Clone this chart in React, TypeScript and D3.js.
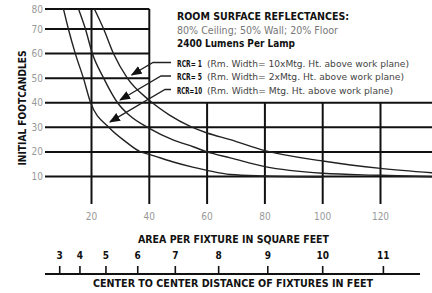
import { useEffect, useRef } from 'react';
import * as d3 from 'd3';

// area per fixture (sq ft) vs initial footcandles
const RCR1: [number, number][] = [
  [21, 80], [24.2, 70], [27.6, 60], [32.4, 50], [40, 41], [47, 35], [54, 30.5],
  [60, 27.7], [68, 25], [80, 20.5], [100, 16.3], [120, 13.3], [138, 11.5],
];
const RCR5: [number, number][] = [
  [15.5, 80], [17.9, 70], [20.3, 60], [24.2, 50], [29, 40], [33, 35], [40, 29.6],
  [48, 25], [55.4, 22], [60, 20], [68, 17.6], [80, 14], [100, 11.3], [120, 10.5], [138, 9.9],
];
const RCR10: [number, number][] = [
  [10.3, 80], [12, 70], [14.4, 60], [17.2, 50], [19.7, 40], [26, 30], [32, 24],
  [37, 20], [40, 19], [48, 16], [55, 13.8], [60, 12.5], [68, 10.8], [80, 10.2], [100, 9.8],
];

const AREA_TICKS = [20, 40, 60, 80, 100, 120];
const FC_TICKS = [10, 20, 30, 40, 50, 60, 70, 80];
const SPACING_TICKS = [3, 4, 5, 6, 7, 8, 9, 10, 11];

const HEADER_LINES = [
  { text: 'ROOM SURFACE REFLECTANCES:', bold: true, color: '#111', len: 172 },
  { text: '80% Ceiling; 50% Wall; 20% Floor', bold: false, color: '#777', len: 161 },
  { text: '2400 Lumens Per Lamp', bold: true, color: '#111', len: 118 },
];
const RCR_LINES = [
  { tag: 'RCR= 1', desc: '(Rm. Width= 10xMtg. Ht. above work plane)', len: 202, tip: [33.9, 51.3], elbow: 153 },
  { tag: 'RCR= 5', desc: '(Rm. Width= 2xMtg. Ht. above work plane)', len: 197, tip: [29.9, 41.1], elbow: 161 },
  { tag: 'RCR=10', desc: '(Rm. Width= Mtg. Ht. above work plane)', len: 186, tip: [26.4, 32.2], elbow: 165 },
];

const FONT = '"Liberation Sans Narrow", "DejaVu Sans Condensed", "Roboto Condensed", sans-serif';

export default function App() {
  const ref = useRef<SVGSVGElement>(null);

  useEffect(() => {
    if (!ref.current) return;
    const width = 432;
    const height = 293;
    const svg = d3.select(ref.current);
    svg.selectAll('*').remove();

    const x = d3.scaleLinear().domain([20, 120]).range([91.5, 380.5]);
    const y = d3.scaleLinear().domain([10, 70, 80]).range([176.5, 29, 9]);
    const left = 45;
    const gridBottom = 204;

    svg.append('rect').attr('width', width).attr('height', height).attr('fill', '#fff');

    const defs = svg.append('defs');
    defs.append('marker')
      .attr('id', 'arrow')
      .attr('markerUnits', 'userSpaceOnUse')
      .attr('viewBox', '0 0 10 8')
      .attr('refX', 9)
      .attr('refY', 4)
      .attr('markerWidth', 11)
      .attr('markerHeight', 9)
      .attr('orient', 'auto')
      .append('path')
      .attr('d', 'M0,0L10,4L0,8Z')
      .attr('fill', '#111');

    const grid = svg.append('g').attr('stroke', '#111').attr('stroke-width', 2);
    FC_TICKS.forEach(v => {
      grid.append('line')
        .attr('x1', left)
        .attr('x2', v >= 50 ? x(40) : width)
        .attr('y1', y(v))
        .attr('y2', y(v));
    });
    AREA_TICKS.forEach(v => {
      grid.append('line')
        .attr('x1', x(v))
        .attr('x2', x(v))
        .attr('y1', v <= 40 ? y(80) : y(40))
        .attr('y2', gridBottom);
    });

    // curves
    const line = d3.line<[number, number]>()
      .x(d => x(d[0]))
      .y(d => y(d[1]))
      .curve(d3.curveMonotoneX);
    [RCR1, RCR5, RCR10].forEach(series => {
      svg.append('path')
        .attr('d', line(series))
        .attr('fill', 'none')
        .attr('stroke', '#222')
        .attr('stroke-width', 1.4);
    });

    // y tick labels
    FC_TICKS.forEach(v => {
      svg.append('text')
        .attr('x', 43)
        .attr('y', y(v) + 3.5)
        .attr('text-anchor', 'end')
        .attr('font-family', FONT)
        .attr('font-size', 10)
        .attr('fill', '#999')
        .text(v);
    });
    // x tick labels
    AREA_TICKS.forEach(v => {
      svg.append('text')
        .attr('x', x(v))
        .attr('y', 219.5)
        .attr('text-anchor', 'middle')
        .attr('font-family', FONT)
        .attr('font-size', 10)
        .attr('fill', '#999')
        .text(v);
    });

    svg.append('text')
      .attr('transform', 'translate(25.5,108) rotate(-90)')
      .attr('text-anchor', 'middle')
      .attr('font-family', FONT)
      .attr('font-weight', 'bold')
      .attr('font-size', 10)
      .attr('fill', '#111')
      .attr('textLength', 115)
      .attr('lengthAdjust', 'spacingAndGlyphs')
      .text('INITIAL FOOTCANDLES');

    svg.append('text')
      .attr('x', 138)
      .attr('y', 243)
      .attr('font-family', FONT)
      .attr('font-weight', 'bold')
      .attr('font-size', 10)
      .attr('fill', '#111')
      .attr('textLength', 191)
      .attr('lengthAdjust', 'spacingAndGlyphs')
      .text('AREA PER FIXTURE IN SQUARE FEET');

    // center-to-center spacing axis (spacing squared = area)
    const axisY = 274;
    svg.append('line')
      .attr('x1', left).attr('x2', 420)
      .attr('y1', axisY).attr('y2', axisY)
      .attr('stroke', '#111').attr('stroke-width', 2);
    SPACING_TICKS.forEach(d => {
      const px = x(d * d);
      svg.append('line')
        .attr('x1', px).attr('x2', px)
        .attr('y1', axisY - 8).attr('y2', axisY)
        .attr('stroke', '#111').attr('stroke-width', 1.6);
      svg.append('text')
        .attr('x', px)
        .attr('y', 258.5)
        .attr('text-anchor', 'middle')
        .attr('font-family', FONT)
        .attr('font-weight', 'bold')
        .attr('font-size', 10)
        .attr('fill', '#111')
        .text(d);
    });
    svg.append('text')
      .attr('x', 93)
      .attr('y', 286.5)
      .attr('font-family', FONT)
      .attr('font-weight', 'bold')
      .attr('font-size', 10)
      .attr('fill', '#111')
      .attr('textLength', 280)
      .attr('lengthAdjust', 'spacingAndGlyphs')
      .text('CENTER TO CENTER DISTANCE OF FIXTURES IN FEET');

    // legend block
    const textX = 177;
    HEADER_LINES.forEach((l, i) => {
      svg.append('text')
        .attr('x', textX)
        .attr('y', 20 + i * 13.7)
        .attr('font-family', FONT)
        .attr('font-weight', l.bold ? 'bold' : 'normal')
        .attr('font-size', 10)
        .attr('fill', l.color)
        .attr('textLength', l.len)
        .attr('lengthAdjust', 'spacingAndGlyphs')
        .text(l.text);
    });
    RCR_LINES.forEach((l, i) => {
      const ty = 66.5 + i * 13.5;
      svg.append('text')
        .attr('x', textX)
        .attr('y', ty)
        .attr('font-family', FONT)
        .attr('font-weight', 'bold')
        .attr('font-size', 8)
        .attr('fill', '#111')
        .attr('textLength', 25)
        .attr('lengthAdjust', 'spacingAndGlyphs')
        .text(l.tag);
      svg.append('text')
        .attr('x', 207)
        .attr('y', ty)
        .attr('font-family', FONT)
        .attr('font-size', 9.5)
        .attr('fill', '#444')
        .attr('textLength', l.len)
        .attr('lengthAdjust', 'spacingAndGlyphs')
        .text(l.desc);
      const ly = ty - 4;
      svg.append('path')
        .attr('d', `M171,${ly}L${l.elbow},${ly}L${x(l.tip[0])},${y(l.tip[1])}`)
        .attr('fill', 'none')
        .attr('stroke', '#222')
        .attr('stroke-width', 1.3)
        .attr('marker-end', 'url(#arrow)');
    });
  }, []);

  return (
    <svg
      ref={ref}
      width={432}
      height={293}
      style={{ position: 'absolute', left: 0, top: 0, display: 'block' }}
    />
  );
}
